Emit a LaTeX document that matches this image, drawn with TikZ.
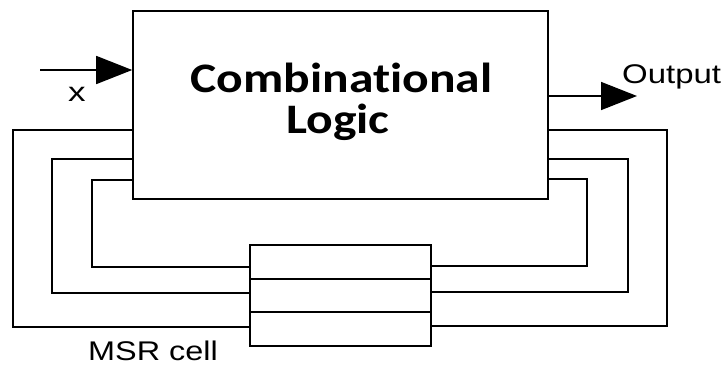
\documentclass[tikz,border=0pt]{standalone}
\usepackage{fontspec}
\usepackage{graphicx}
\usetikzlibrary{arrows.meta}
\newfontfamily\titlefont[Ligatures=NoCommon]{Carlito}
\newfontfamily\labelfont{Liberation Sans}
\tikzset{
  wire/.style={line width=1.6pt, line join=miter},
  block/.style={draw, line width=1.6pt, inner sep=0pt},
  sig/.style={wire, -{Triangle[length=36pt, width=28pt]}},
  lbl/.style={inner sep=0pt, font=\labelfont\fontsize{27}{30}\selectfont},
}
\begin{document}
\begin{tikzpicture}[x=1pt, y=-1pt]
\useasboundingbox (0,0) rectangle (728,365);

% combinational block
\node[block, minimum width=415pt, minimum height=188pt] (logic) at (340.5,105) {};
\node[inner sep=0pt, anchor=base, font=\titlefont\bfseries\fontsize{42}{42}\selectfont] (t1) at (341.5,92) {\scalebox{1.18}[1]{Combinational}};
\node[inner sep=0pt, anchor=base, font=\titlefont\bfseries\fontsize{42}{42}\selectfont] (t2) at (338,133) {\scalebox{1.18}[1]{Logic}};

% register cell with three stages
\node[block, minimum width=181pt, minimum height=101pt] (msr) at (340.5,295.5) {};
\draw[wire] (msr.west |- 0,279) -- (msr.east |- 0,279);
\draw[wire] (msr.west |- 0,312) -- (msr.east |- 0,312);

% input and output
\coordinate (xin) at (40,70);
\draw[sig] (xin) -- (logic.west |- xin);
\node[lbl] (xlbl) at (77,94) {\scalebox{1.3}[1]{x}};
\coordinate (yout) at (637,96);
\draw[sig] (logic.east |- yout) -- (yout);
\node[lbl, anchor=base west] (outlbl) at (622,83) {\scalebox{1.22}[1]{Output}};

% feedback paths, left side
\draw[wire] (logic.west |- 0,130) -| (13,327) -- (msr.west |- 0,327);
\draw[wire] (logic.west |- 0,159) -| (52,293) -- (msr.west |- 0,293);
\draw[wire] (logic.west |- 0,180) -| (92,267) -- (msr.west |- 0,267);

% feedback paths, right side
\draw[wire] (logic.east |- 0,130) -| (667,326) -- (msr.east |- 0,326);
\draw[wire] (logic.east |- 0,159) -| (628,292) -- (msr.east |- 0,292);
\draw[wire] (logic.east |- 0,179) -| (587,266) -- (msr.east |- 0,266);

\node[lbl, anchor=base west] (msrlbl) at (88,360) {\scalebox{1.2}[1]{MSR cell}};
\end{tikzpicture}
\end{document}
